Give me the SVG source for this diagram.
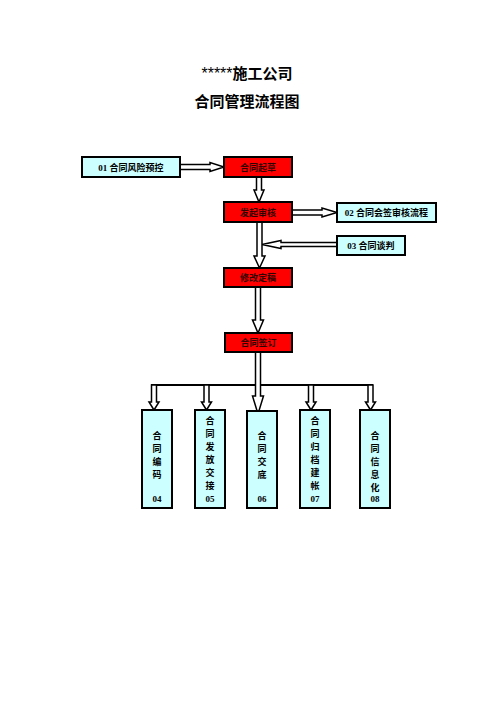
<svg xmlns="http://www.w3.org/2000/svg" width="496" height="702" viewBox="0 0 496 702">
<style>
.red{fill:#ff0000;stroke:#000;stroke-width:2}
.cyan{fill:#ccffff;stroke:#000;stroke-width:2}
.arr{fill:#fff;stroke:#000;stroke-width:1.5;stroke-linejoin:miter}
.t{font-family:"Noto Sans CJK SC","Liberation Sans",sans-serif;font-weight:bold;font-size:9px;fill:#000;text-anchor:middle}
.tr{font-family:"Noto Sans CJK SC","Liberation Sans",sans-serif;font-weight:bold;font-size:9px;fill:#330000;text-anchor:middle}
.num{font-family:"Liberation Serif",serif;font-weight:bold}
.title{font-family:"Noto Sans CJK SC","Liberation Sans",sans-serif;font-weight:bold;font-size:15px;fill:#000;text-anchor:middle}
</style>
<rect width="496" height="702" fill="#fff"/>
<g id="title">
<text class="title" x="247" y="79"><tspan font-family="Liberation Sans" font-weight="normal" font-size="16">*****</tspan>施工公司</text>
<text class="title" x="247" y="107">合同管理流程图</text>
</g>
<g id="connectors">
<polygon class="arr" points="180,164.5 210,164.5 210,162.5 224,167 210,171.5 210,169.5 180,169.5"/>
<polygon class="arr" points="256.5,177 261.5,177 261.5,190 264,190 259,202 254,190 256.5,190"/>
<polygon class="arr" points="292,210 322,210 322,208 337,212.5 322,217 322,215 292,215"/>
<polygon class="arr" points="337,242.5 281,242.5 281,240.5 262,244.5 281,248.5 281,246.5 337,246.5"/>
<polygon class="arr" points="257,222 262,222 262,256 265,256 259.5,268 254,256 257,256"/>
<polygon class="arr" points="255.5,287 260.5,287 260.5,320 263.5,320 258,333 252.5,320 255.5,320"/>
<line x1="151" y1="385" x2="373" y2="385" stroke="#000" stroke-width="2"/>
<polygon class="arr" points="255.5,352 260.5,352 260.5,396 263.5,396 258,414 252.5,396 255.5,396"/>
<polygon class="arr" points="151.5,385 156.5,385 156.5,402 159,402 154,410 149,402 151.5,402"/>
<polygon class="arr" points="204,385 209,385 209,402 211.5,402 206.5,410 201.5,402 204,402"/>
<polygon class="arr" points="308.5,385 313.5,385 313.5,402 316,402 311,410 306,402 308.5,402"/>
<polygon class="arr" points="368,385 373,385 373,402 375.5,402 370.5,410 365.5,402 368,402"/>
</g>
<g id="n01"><rect class="cyan" x="82" y="157" width="98" height="20"/><text class="t" x="131" y="170.5"><tspan class="num">01 </tspan>合同风险预控</text></g>
<g id="n-qicao"><rect class="red" x="224" y="157" width="68" height="20"/><text class="tr" x="258" y="170.5">合同起草</text></g>
<g id="n-shenhe"><rect class="red" x="224" y="202" width="68" height="20"/><text class="tr" x="258" y="215.5">发起审核</text></g>
<g id="n02"><rect class="cyan" x="337" y="203" width="99" height="19"/><text class="t" x="386.5" y="216"><tspan class="num">02 </tspan>合同会签审核流程</text></g>
<g id="n03"><rect class="cyan" x="337" y="236" width="68" height="19"/><text class="t" x="371" y="249"><tspan class="num">03 </tspan>合同谈判</text></g>
<g id="n-xiugai"><rect class="red" x="224" y="268" width="68" height="19"/><text class="tr" x="258" y="281">修改定稿</text></g>
<g id="n-qianding"><rect class="red" x="225" y="333" width="67" height="19"/><text class="tr" x="258.5" y="346">合同签订</text></g>
<g id="n04"><rect class="cyan" x="142" y="410" width="30" height="98"/>
<text class="t" x="157"><tspan x="157" y="438.5">合</tspan><tspan x="157" y="451.5">同</tspan><tspan x="157" y="464.5">编</tspan><tspan x="157" y="477.5">码</tspan><tspan class="num" x="157" y="502">04</tspan></text></g>
<g id="n05"><rect class="cyan" x="195" y="410" width="30" height="98"/>
<text class="t" x="210"><tspan x="210" y="423.5">合</tspan><tspan x="210" y="436.5">同</tspan><tspan x="210" y="449.5">发</tspan><tspan x="210" y="462.5">放</tspan><tspan x="210" y="475.5">交</tspan><tspan x="210" y="488.5">接</tspan><tspan class="num" x="210" y="502">05</tspan></text></g>
<g id="n06"><rect class="cyan" x="247" y="411" width="30" height="97"/>
<text class="t" x="262"><tspan x="262" y="438.5">合</tspan><tspan x="262" y="451.5">同</tspan><tspan x="262" y="464.5">交</tspan><tspan x="262" y="477.5">底</tspan><tspan class="num" x="262" y="502">06</tspan></text></g>
<g id="n07"><rect class="cyan" x="300" y="410" width="30" height="98"/>
<text class="t" x="315"><tspan x="315" y="423.5">合</tspan><tspan x="315" y="436.5">同</tspan><tspan x="315" y="449.5">归</tspan><tspan x="315" y="462.5">档</tspan><tspan x="315" y="475.5">建</tspan><tspan x="315" y="488.5">帐</tspan><tspan class="num" x="315" y="502">07</tspan></text></g>
<g id="n08"><rect class="cyan" x="360" y="410" width="30" height="98"/>
<text class="t" x="375"><tspan x="375" y="438.5">合</tspan><tspan x="375" y="451.5">同</tspan><tspan x="375" y="464.5">信</tspan><tspan x="375" y="477.5">息</tspan><tspan x="375" y="490.5">化</tspan><tspan class="num" x="375" y="502">08</tspan></text></g>
</svg>
